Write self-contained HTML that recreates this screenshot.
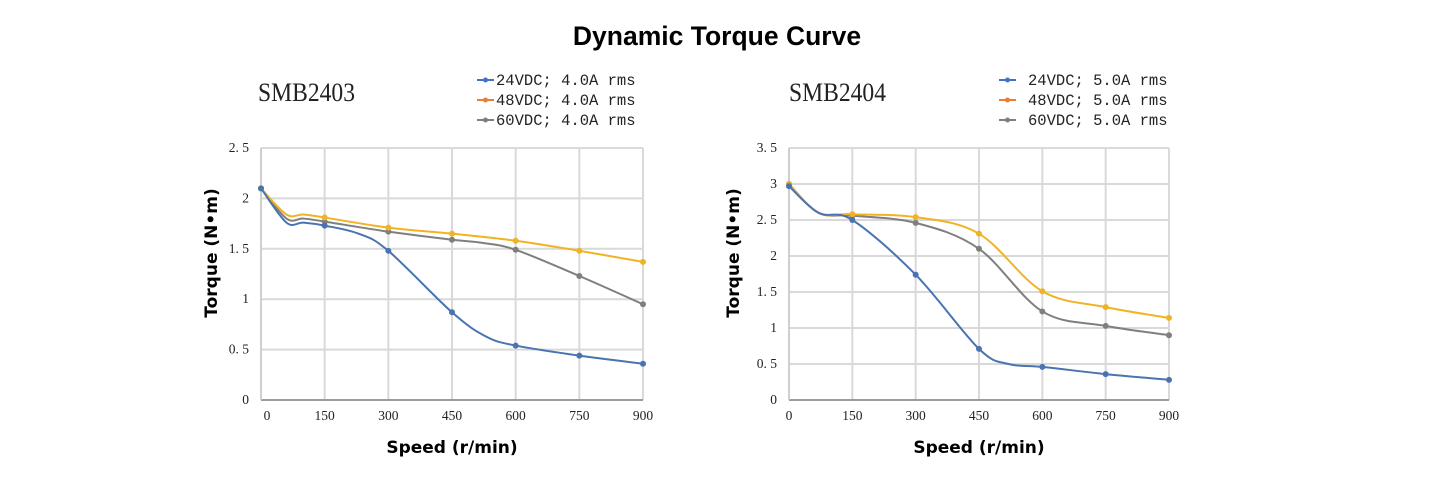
<!DOCTYPE html>
<html><head><meta charset="utf-8"><style>
body{margin:0;background:#fff;width:1435px;height:480px;overflow:hidden}
svg{display:block}
.t{font-family:"Liberation Serif",serif;font-size:13.5px;fill:#222}
.lg{font-family:"Liberation Mono",monospace;font-size:15.5px;fill:#222}
.ax{font-family:"DejaVu Sans",sans-serif;font-weight:bold;font-size:17px;fill:#000}
.md{font-family:"Liberation Serif",serif;font-size:26px;fill:#222}
</style></head><body>
<svg id="s" width="1435" height="480" xmlns="http://www.w3.org/2000/svg">
<text x="717" y="45" text-anchor="middle" font-family="Liberation Sans, sans-serif" font-weight="bold" font-size="26.5" fill="#000">Dynamic Torque Curve</text>
</svg>
<script>
var S=document.getElementById('s'),NS='http://www.w3.org/2000/svg';
function el(t,a,txt){var e=document.createElementNS(NS,t);for(var k in a)e.setAttribute(k,a[k]);if(txt!=null)e.textContent=txt;S.appendChild(e);return e;}
function path(pts){var d='M'+pts[0][0]+','+pts[0][1];for(var i=0;i<pts.length-1;i++){var p0=pts[i-1]||pts[i],p1=pts[i],p2=pts[i+1],p3=pts[i+2]||p2;var t=0.5/3;
d+=' C'+(p1[0]+(p2[0]-p0[0])*t)+','+(p1[1]+(p2[1]-p0[1])*t)+' '+(p2[0]-(p3[0]-p1[0])*t)+','+(p2[1]-(p3[1]-p1[1])*t)+' '+p2[0]+','+p2[1];}return d;}
function chart(o){
 var x0=o.x0,x1=o.x1,yT=148,yB=400,W=x1-x0,H=yB-yT;
 function X(v){return x0+v/900*W} function Y(v){return yB-v/o.ymax*H}
 for(var i=0;i<=o.ymax/0.5;i++){var y=Y(i*0.5);el('line',{x1:x0,x2:x1,y1:y,y2:y,stroke:'#d9d9d9','stroke-width':2});
  el('text',{x:x0-12,y:y+4,'text-anchor':'end',class:'t'},i==0?'0':(i%2==0?String(i/2):(i*0.5).toFixed(1).replace('.','. ')));}
 for(var j=0;j<=6;j++){var x=X(j*150);el('line',{x1:x,x2:x,y1:yT,y2:yB,stroke:'#d9d9d9','stroke-width':2});
  el('text',{x:x+(j==0?o.zo:0),y:420,'text-anchor':'middle',class:'t'},String(j*150));}
 el('line',{x1:x0,x2:x1,y1:yB,y2:yB,stroke:'#888','stroke-width':1.5});
 el('line',{x1:x0,x2:x0,y1:yT,y2:yB,stroke:'#ccc','stroke-width':1.5});
 el('text',{x:(x0+x1)/2,y:453,'text-anchor':'middle',class:'ax'},'Speed (r/min)');
 el('text',{x:0,y:0,'text-anchor':'middle',class:'ax',transform:'translate('+(o.tx)+',253) rotate(-90)'},'Torque (N•m)');
 el('text',{x:o.mx,y:101,class:'md',textLength:97,lengthAdjust:'spacingAndGlyphs'},o.model);
 var cols=['#4472c4','#ed7d31','#7f7f7f'],names=['24VDC; ','48VDC; ','60VDC; '];
 for(var k=0;k<3;k++){var y=80+k*20;el('line',{x1:o.lx,x2:o.lx+17,y1:y,y2:y,stroke:cols[k],'stroke-width':2});el('circle',{cx:o.lx+8.5,cy:y,r:2.5,fill:cols[k]});
  el('text',{x:o.lx+o.lt,y:y+5,class:'lg'},names[k]+o.cur+' rms');}
 var sc=[['#7f7f7f',o.g],['#f0b323',o.yl],['#4a74b0',o.b]];
 sc.forEach(function(s){var pts=s[1].map(function(p){return [X(p[0]),Y(p[1])]});
  el('path',{d:path(pts),fill:'none',stroke:s[0],'stroke-width':2});
  s[1].forEach(function(p,i){if(p[0]%150==0)el('circle',{cx:X(p[0]),cy:Y(p[1]),r:3,fill:s[0]});});});
}
chart({x0:261,x1:643,ymax:2.5,zo:6,tx:217,mx:258,lx:477,lt:19,model:'SMB2403',cur:'4.0A',
 yl:[[0,2.1],[60,1.84],[100,1.84],[150,1.81],[300,1.71],[450,1.65],[600,1.58],[750,1.48],[900,1.37]],
 g:[[0,2.1],[60,1.80],[100,1.80],[150,1.77],[300,1.67],[450,1.59],[520,1.56],[600,1.49],[750,1.23],[900,0.95]],
 b:[[0,2.1],[60,1.76],[100,1.76],[150,1.73],[230,1.65],[300,1.48],[450,0.87],[530,0.63],[600,0.54],[750,0.44],[900,0.36]]});
chart({x0:789,x1:1169,ymax:3.5,zo:0,tx:739,mx:789,lx:999,lt:29,model:'SMB2404',cur:'5.0A',
 yl:[[0,3.0],[70,2.6],[150,2.58],[300,2.54],[450,2.31],[600,1.51],[750,1.29],[900,1.14]],
 g:[[0,3.0],[70,2.6],[150,2.56],[300,2.46],[450,2.1],[600,1.23],[750,1.03],[900,0.90]],
 b:[[0,2.97],[70,2.6],[150,2.5],[300,1.74],[450,0.71],[520,0.5],[600,0.46],[750,0.36],[900,0.28]]});
</script>
</body></html>
